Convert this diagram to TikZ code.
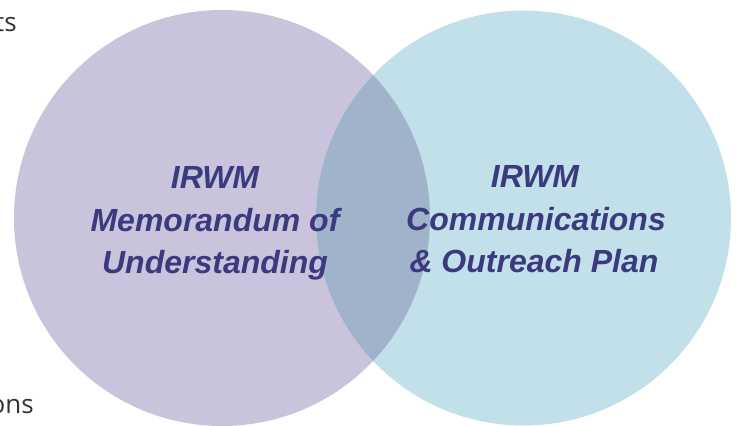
\documentclass[tikz,border=0pt]{standalone}
\usepackage{fontspec}
\setmainfont{Liberation Sans}
\newfontfamily\sidefont{Open Sans}
\definecolor{mouviolet}{HTML}{C9C4DC}
\definecolor{coplightblue}{HTML}{C2E0EA}
\definecolor{overlapblue}{HTML}{A0B3CB}
\definecolor{irwmblue}{HTML}{3B3A7F}
\definecolor{sidegray}{HTML}{333333}
\begin{document}
\begin{tikzpicture}[x=1pt,y=-1pt,
  venntext/.style={anchor=base, inner sep=0pt, text=irwmblue,
    font=\fontsize{32}{38}\selectfont\bfseries\itshape},
  sidetext/.style={anchor=base east, inner sep=0pt, text=sidegray,
    font=\sidefont\fontsize{26}{30}\selectfont}]
\useasboundingbox (0,0) rectangle (737,426);

% Circulos
\fill[mouviolet] (222,218) circle (208pt);
\fill[coplightblue] (523.5,218) circle (207.5pt);

% Interseccion
\begin{scope}
  \clip (222,218) circle (208pt);
  \fill[overlapblue] (523.5,218) circle (207.5pt);
\end{scope}

% Textos
\node[venntext] (mou1) at (215,188) {IRWM};
\node[venntext] (mou2) at (215,231) {Memorandum of};
\node[venntext] (mou3) at (215,273) {Understanding};
\node[venntext] (cop1) at (535,187) {IRWM};
\node[venntext] (cop2) at (536,230) {Communications};
\node[venntext] (cop3) at (534,272) {\& Outreach Plan};

% Textos cortados al borde
\node[sidetext] (topword) at (17,31) {ts};
\node[sidetext] (bottomword) at (34,413) {ons};

\end{tikzpicture}
\end{document}
